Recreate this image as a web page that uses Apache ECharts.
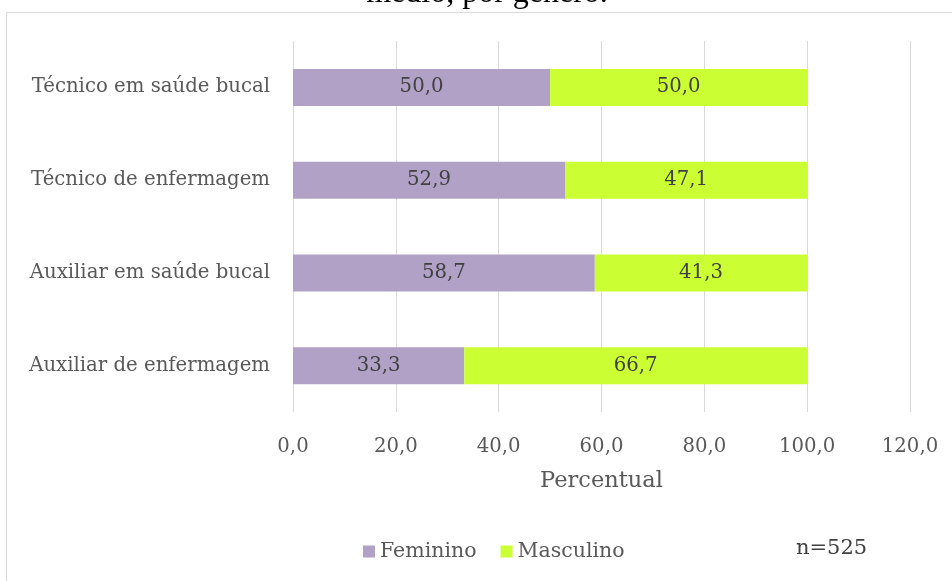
<!DOCTYPE html>
<html><head><meta charset="utf-8">
<script src="https://cdn.jsdelivr.net/npm/echarts@6/dist/echarts.min.js"></script>
<style>html,body{margin:0;padding:0;background:#fff}#c{width:952px;height:581px}</style>
</head><body><div id="c"></div>
<script>
const categories = ['Auxiliar de enfermagem','Auxiliar em saúde bucal','Técnico de enfermagem','Técnico em saúde bucal'];
const feminino = [33.3, 58.7, 52.9, 50.0];
const masculino = [66.7, 41.3, 47.1, 50.0];
const seriesNames = ['Feminino','Masculino'];
const titleText = 'médio, por gênero.';
const noteText = 'n=525';
const axisName = 'Percentual';

const fmt = v => Number(v).toFixed(1).replace('.', ',');
const serif = '"DejaVu Serif", serif';
const fs = 19.7;
const chart = echarts.init(document.getElementById('c'));
chart.setOption({
  animation: false,
  textStyle: {fontFamily: serif},
  grid: {left: 293, right: 42, top: 41, bottom: 169},
  legend: {
    data: seriesNames, left: 358, top: 536, itemWidth: 12, itemHeight: 12, itemGap: 24,
    icon: 'rect', textStyle: {fontFamily: serif, fontSize: 20.5, color: '#595959'}
  },
  xAxis: {
    type: 'value', min: 0, max: 120, interval: 20,
    axisLine: {show: false}, axisTick: {show: false},
    splitLine: {lineStyle: {color: '#d9d9d9', width: 1}},
    axisLabel: {formatter: fmt, fontSize: fs, color: '#595959', margin: 25, fontFamily: serif},
    name: axisName, nameLocation: 'middle', nameGap: 58,
    nameTextStyle: {fontSize: 22.5, color: '#595959', fontFamily: serif}
  },
  yAxis: {
    type: 'category', data: categories,
    axisLine: {show: false}, axisTick: {show: false},
    axisLabel: {fontSize: fs, color: '#595959', margin: 23, fontFamily: serif}
  },
  series: [
    {name: seriesNames[0], type: 'bar', stack: 'a', data: feminino, barWidth: 37,
     itemStyle: {color: '#b2a1c7'},
     label: {show: true, position: 'inside', formatter: p => fmt(p.value), fontSize: fs, color: '#404040', fontFamily: serif}},
    {name: seriesNames[1], type: 'bar', stack: 'a', data: masculino, barWidth: 37,
     itemStyle: {color: '#ccff33'},
     label: {show: true, position: 'inside', formatter: p => fmt(p.value), fontSize: fs, color: '#404040', fontFamily: serif}}
  ],
  graphic: [
    {type: 'rect', shape: {x: 6.5, y: 12.5, width: 1000, height: 1000}, style: {fill: 'none', stroke: '#d9d9d9', lineWidth: 1}, z: -1},
    {type: 'text', x: 487, y: -6, style: {text: titleText, font: '32px "Liberation Serif", serif', fill: '#000', textAlign: 'center', textVerticalAlign: 'middle'}},
    {type: 'text', x: 796, y: 549, style: {text: noteText, font: '21px "DejaVu Serif", serif', fill: '#404040', textAlign: 'left', textVerticalAlign: 'middle'}}
  ]
});
</script></body></html>
